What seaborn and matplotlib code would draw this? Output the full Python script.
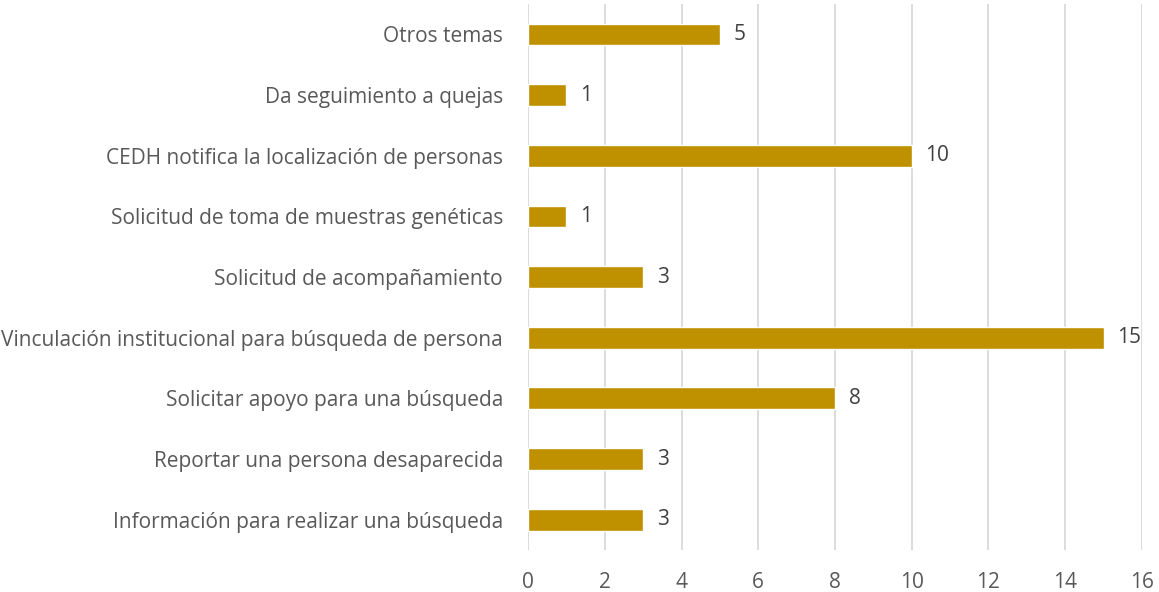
import seaborn as sns
import pandas as pd
import matplotlib.pyplot as plt

categorias = [
    "Otros temas",
    "Da seguimiento a quejas",
    "CEDH notifica la localización de personas",
    "Solicitud de toma de muestras genéticas",
    "Solicitud de acompañamiento",
    "Vinculación institucional para búsqueda de persona",
    "Solicitar apoyo para una búsqueda",
    "Reportar una persona desaparecida",
    "Información para realizar una búsqueda",
]
valores = [5, 1, 10, 1, 3, 15, 8, 3, 3]
ticks_x = [0, 2, 4, 6, 8, 10, 12, 14, 16]

df = pd.DataFrame({"categoria": categorias, "valor": valores})

sns.set_theme(style="white")
plt.rcParams['font.family'] = ['Open Sans', 'DejaVu Sans']

fig = plt.figure(figsize=(11.59, 5.92), dpi=100)
ax = fig.add_axes([0.4556, 0.0709, 0.5297, 0.9221])

sns.barplot(data=df, x="valor", y="categoria", color="#BF9000", saturation=1,
            width=0.36, ax=ax, zorder=3)

# etiquetas de valor a la derecha de cada barra
for i, v in enumerate(valores):
    ax.text(v + 0.36, i, str(v), va="center", ha="left", fontsize=15, color="#404040")

ax.set_xlim(0, 16)
ax.set_xticks(ticks_x)
ax.set_xticklabels([str(t) for t in ticks_x], fontsize=15, color="#595959")
ax.tick_params(axis="y", labelsize=15, labelcolor="#595959", length=0, pad=18)
ax.tick_params(axis="x", length=0, pad=16)
ax.set_xlabel("")
ax.set_ylabel("")
ax.grid(axis="x", color="#D9D9D9", linewidth=1.3, zorder=0)
for s in ax.spines.values():
    s.set_visible(False)

fig.savefig("out.png", dpi=100)
